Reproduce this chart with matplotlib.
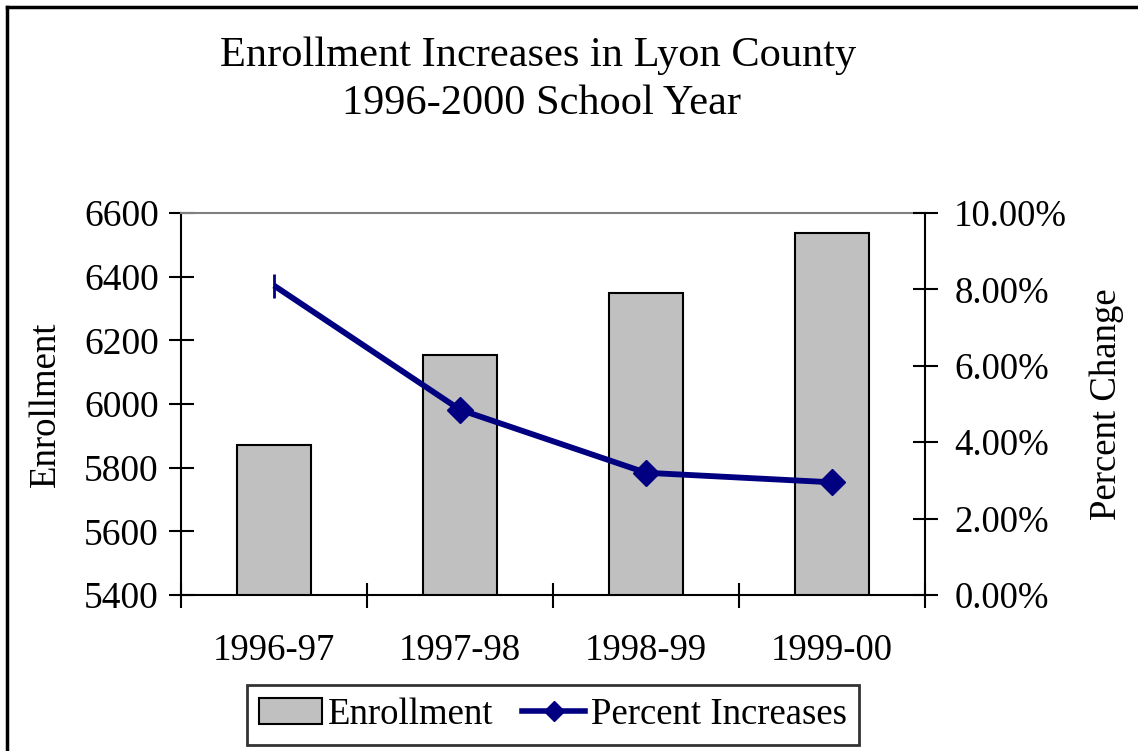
import matplotlib
matplotlib.use("Agg")
import matplotlib.pyplot as plt
from matplotlib.lines import Line2D
from matplotlib.patches import Patch
from matplotlib.ticker import FuncFormatter, FixedLocator
import numpy as np

categories = ["1996-97", "1997-98", "1998-99", "1999-00"]
enrollment = [5870, 6154, 6349, 6537]
percent_increase = [8.10, 4.85, 3.20, 2.95]
left_ticks = [5400, 5600, 5800, 6000, 6200, 6400, 6600]
right_ticks = [0, 2, 4, 6, 8, 10]

plt.rcParams['font.family'] = ['Liberation Serif', 'DejaVu Serif']
FS = 26.5
W, H = 1138, 751
fig = plt.figure(figsize=(W / 100, H / 100), dpi=100)
fig.patch.set_facecolor('white')

ax = fig.add_axes([181 / W, 1 - 595 / H, (925 - 181) / W, (595 - 213) / H])
x = np.arange(len(categories))
ax.bar(x, enrollment, width=0.4, bottom=0, color='#C0C0C0', edgecolor='black', linewidth=1.5, zorder=2)
ax.set_xlim(-0.5, len(categories) - 0.5)
ax.set_ylim(left_ticks[0], left_ticks[-1])
ax.set_yticks(left_ticks)
ax.yaxis.set_major_formatter(FuncFormatter(lambda v, p: f"{int(v)}"))
ax.set_xticks(x)
ax.set_xticklabels(categories)
ax.xaxis.set_minor_locator(FixedLocator(np.arange(-0.5, len(categories), 1.0)))
ax.tick_params(axis='x', which='major', length=0, pad=28, labelsize=FS)
ax.tick_params(axis='x', which='minor', direction='inout', length=18, width=1.5)
ax.tick_params(axis='y', direction='inout', length=18, width=1.5, labelsize=27, pad=7)
ax.set_ylabel("Enrollment", fontsize=FS, labelpad=15)
for s in ['left', 'bottom']:
    ax.spines[s].set_linewidth(1.5)
ax.spines['right'].set_visible(False)
ax.spines['top'].set_color('#808080')
ax.spines['top'].set_linewidth(1.5)

ax2 = ax.twinx()
ax2.set_ylim(right_ticks[0], right_ticks[-1])
ax2.set_yticks(right_ticks)
ax2.yaxis.set_major_formatter(FuncFormatter(lambda v, p: f"{v:.2f}%"))
ax2.tick_params(axis='y', direction='inout', length=18, width=1.5, labelsize=FS, pad=12)
ax2.spines['right'].set_linewidth(1.5)
ax2.spines['top'].set_visible(False)
ax2.spines['left'].set_visible(False)
ax2.spines['bottom'].set_visible(False)
ax2.set_ylabel("Percent Change", fontsize=FS, labelpad=16)

navy = '#000080'
ax2.plot(x, percent_increase, color=navy, linewidth=4.2, zorder=3, solid_capstyle='butt')
ax2.plot(x[1:], percent_increase[1:], linestyle='none', marker='D', markersize=13,
         color=navy, zorder=4)
ax2.plot(x[:1], percent_increase[:1], linestyle='none', marker='|', markersize=17,
         markeredgewidth=2, color=navy, zorder=4)

fig.text(538 / W, 1 - 56 / H, "Enrollment Increases in Lyon County", ha='center', va='center', fontsize=30.5)
fig.text(542 / W, 1 - 104 / H, "1996-2000 School Year", ha='center', va='center', fontsize=30.5)

handles = [Patch(facecolor='#C0C0C0', edgecolor='black', linewidth=1.5),
           Line2D([0], [0], color=navy, linewidth=4, marker='D', markersize=10)]
leg = fig.legend(handles, ["Enrollment", "Percent Increases"], loc='center',
                 bbox_to_anchor=(553 / W, 1 - 715 / H), ncol=2, fontsize=FS,
                 frameon=True, fancybox=False, edgecolor='black', handlelength=1.7,
                 handletextpad=0.15, columnspacing=0.8, borderpad=0.35, borderaxespad=0)
leg.get_frame().set_linewidth(2)

fig.add_artist(Line2D([7 / W, 7 / W], [0, 1 - 7 / H], color='black', linewidth=2.5))
fig.add_artist(Line2D([7 / W, 1], [1 - 7 / H, 1 - 7 / H], color='black', linewidth=2.5))

fig.savefig("out.png", dpi=100, facecolor='white')
